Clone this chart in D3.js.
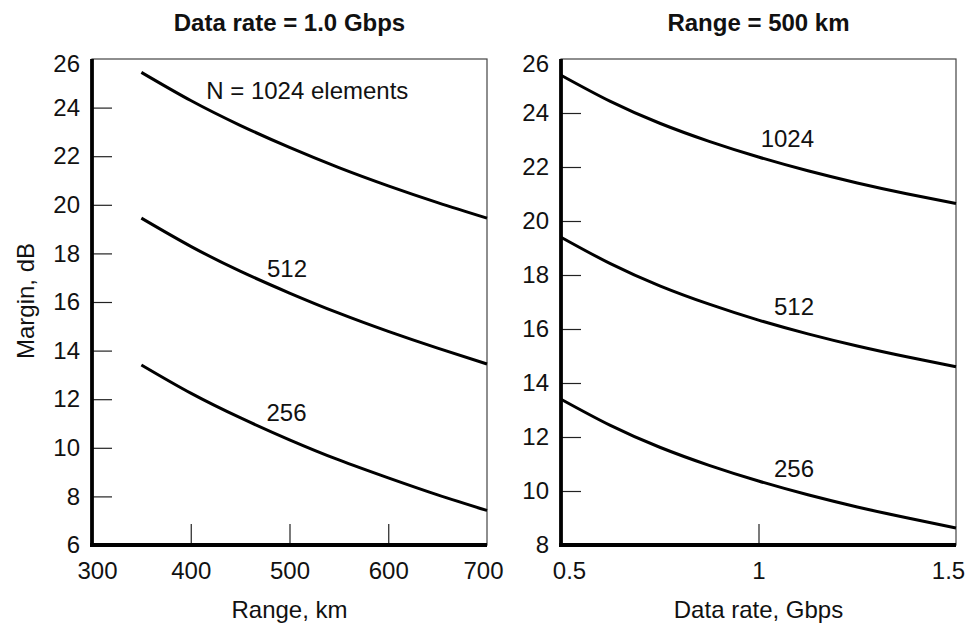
<!DOCTYPE html>
<html>
<head>
<meta charset="utf-8">
<script src="https://cdn.jsdelivr.net/npm/d3@7"></script>
<style>
  html, body { margin: 0; padding: 0; background: #fff; }
  svg { display: block; }
  text { font-family: "Liberation Sans", Arial, Helvetica, sans-serif; fill: #111; }
</style>
</head>
<body>
<svg id="chart" width="971" height="625"></svg>
<script>
// ---------- Data ----------
// Left panel: Data rate = 1.0 Gbps, margin vs range
const rangeKm = [350, 400, 450, 500, 550, 600, 650, 700];
const leftN1024 = [25.45, 24.29, 23.27, 22.36, 21.53, 20.78, 20.09, 19.45];
const leftN512  = [19.45, 18.29, 17.27, 16.37, 15.54, 14.79, 14.1, 13.45];
const leftN256  = [13.41, 12.25, 11.24, 10.33, 9.5, 8.76, 8.06, 7.42];

// Right panel: Range = 500 km, margin vs data rate
const rateGbps = [0.5, 0.625, 0.75, 0.875, 1.0, 1.125, 1.25, 1.375, 1.5];
const rightN1024 = [25.4, 24.43, 23.62, 22.95, 22.37, 21.86, 21.41, 21.01, 20.65];
const rightN512  = [19.4, 18.42, 17.6, 16.92, 16.33, 15.82, 15.37, 14.97, 14.6];
const rightN256  = [13.4, 12.43, 11.62, 10.95, 10.37, 9.86, 9.41, 9.01, 8.63];

// Tick values
const leftXTicks = [300, 400, 500, 600, 700];
const leftYTicks = [6, 8, 10, 12, 14, 16, 18, 20, 22, 24, 26];
const rightXTicks = [0.5, 1, 1.5];
const rightYTicks = [8, 10, 12, 14, 16, 18, 20, 22, 24, 26];

// Titles / labels
const leftTitle = "Data rate = 1.0 Gbps";
const rightTitle = "Range = 500 km";
const leftXLabel = "Range, km";
const rightXLabel = "Data rate, Gbps";
const yLabel = "Margin, dB";

// Curve annotations (data coordinates)
const leftNotes = [
  { text: "N = 1024 elements", x: 518, y: 24.35 },
  { text: "512", x: 497.5, y: 17.04 },
  { text: "256", x: 497, y: 11.12 }
];
const rightNotes = [
  { text: "1024", x: 1.073, y: 22.74 },
  { text: "512", x: 1.09, y: 16.52 },
  { text: "256", x: 1.09, y: 10.53 }
];

// ---------- Drawing ----------
const svg = d3.select("#chart");
const FONT = 24;

function panel(opts) {
  const { left, right, top, bottom, xDomain, yDomain, xTicks, yTicks,
          xs, series, notes, title, xLabel, edgeShift } = opts;
  const x = d3.scaleLinear().domain(xDomain).range([left, right]);
  const y = d3.scaleLinear().domain(yDomain).range([bottom, top]);
  const g = svg.append("g");

  // thin frame (top/right)
  g.append("rect")
    .attr("x", left).attr("y", top)
    .attr("width", right - left).attr("height", bottom - top)
    .attr("fill", "none").attr("stroke", "#444").attr("stroke-width", 1.2);

  // Y axis
  const yAxis = d3.axisLeft(y).tickValues(yTicks)
    .tickSizeInner(-20).tickSizeOuter(0).tickPadding(12)
    .tickFormat(d3.format("d"));
  const ya = g.append("g").attr("transform", `translate(${left},0)`).call(yAxis);
  ya.select(".domain").remove();
  ya.selectAll(".tick line").attr("stroke", "#222").attr("stroke-width", 1.2)
    .filter(d => d === yDomain[0] || d === yDomain[1]).remove();
  ya.selectAll(".tick text").attr("font-size", FONT).attr("fill", "#111")
    .attr("font-family", '"Liberation Sans", Arial, sans-serif')
    .filter(d => d === yDomain[1]).attr("dy", "0.5em");

  // X axis
  const xAxis = d3.axisBottom(x).tickValues(xTicks)
    .tickSizeInner(-21).tickSizeOuter(0).tickPadding(17)
    .tickFormat(d => String(d));
  const xa = g.append("g").attr("transform", `translate(0,${bottom})`).call(xAxis);
  xa.select(".domain").remove();
  xa.selectAll(".tick line").attr("stroke", "#222").attr("stroke-width", 1.2)
    .filter(d => d === xDomain[0] || d === xDomain[1]).remove();
  xa.selectAll(".tick text").attr("font-size", FONT).attr("fill", "#111")
    .attr("font-family", '"Liberation Sans", Arial, sans-serif')
    .attr("dx", d => d === xDomain[0] ? edgeShift[0] : (d === xDomain[1] ? edgeShift[1] : 0));

  // thick left & bottom axis lines
  g.append("line").attr("x1", left).attr("x2", left)
    .attr("y1", top).attr("y2", bottom + 2)
    .attr("stroke", "#000").attr("stroke-width", 3.8);
  g.append("line").attr("x1", left - 2).attr("x2", right)
    .attr("y1", bottom).attr("y2", bottom)
    .attr("stroke", "#000").attr("stroke-width", 3.8);

  // curves
  const line = d3.line()
    .x((d, i) => x(xs[i]))
    .y(d => y(d))
    .curve(d3.curveNatural);
  series.forEach(s => {
    g.append("path").attr("d", line(s))
      .attr("fill", "none").attr("stroke", "#000").attr("stroke-width", 3);
  });

  // annotations
  notes.forEach(n => {
    g.append("text").attr("x", x(n.x)).attr("y", y(n.y))
      .attr("text-anchor", "middle").attr("font-size", FONT).text(n.text);
  });

  // title
  g.append("text").attr("x", (left + right) / 2).attr("y", 31)
    .attr("text-anchor", "middle").attr("font-size", FONT)
    .attr("font-weight", "bold").text(title);

  // x label
  g.append("text").attr("x", (left + right) / 2).attr("y", 618)
    .attr("text-anchor", "middle").attr("font-size", FONT).text(xLabel);
}

panel({
  left: 92, right: 487, top: 59, bottom: 545,
  xDomain: [300, 700], yDomain: [6, 26],
  xTicks: leftXTicks, yTicks: leftYTicks,
  xs: rangeKm, series: [leftN1024, leftN512, leftN256],
  notes: leftNotes, title: leftTitle, xLabel: leftXLabel,
  edgeShift: [5, -4]
});

panel({
  left: 561, right: 956, top: 59, bottom: 545,
  xDomain: [0.5, 1.5], yDomain: [8, 26],
  xTicks: rightXTicks, yTicks: rightYTicks,
  xs: rateGbps, series: [rightN1024, rightN512, rightN256],
  notes: rightNotes, title: rightTitle, xLabel: rightXLabel,
  edgeShift: [8, -8]
});

// y-axis label (left)
svg.append("text")
  .attr("transform", "translate(34,301) rotate(-90)")
  .attr("text-anchor", "middle").attr("font-size", FONT).text(yLabel);
</script>
</body>
</html>
